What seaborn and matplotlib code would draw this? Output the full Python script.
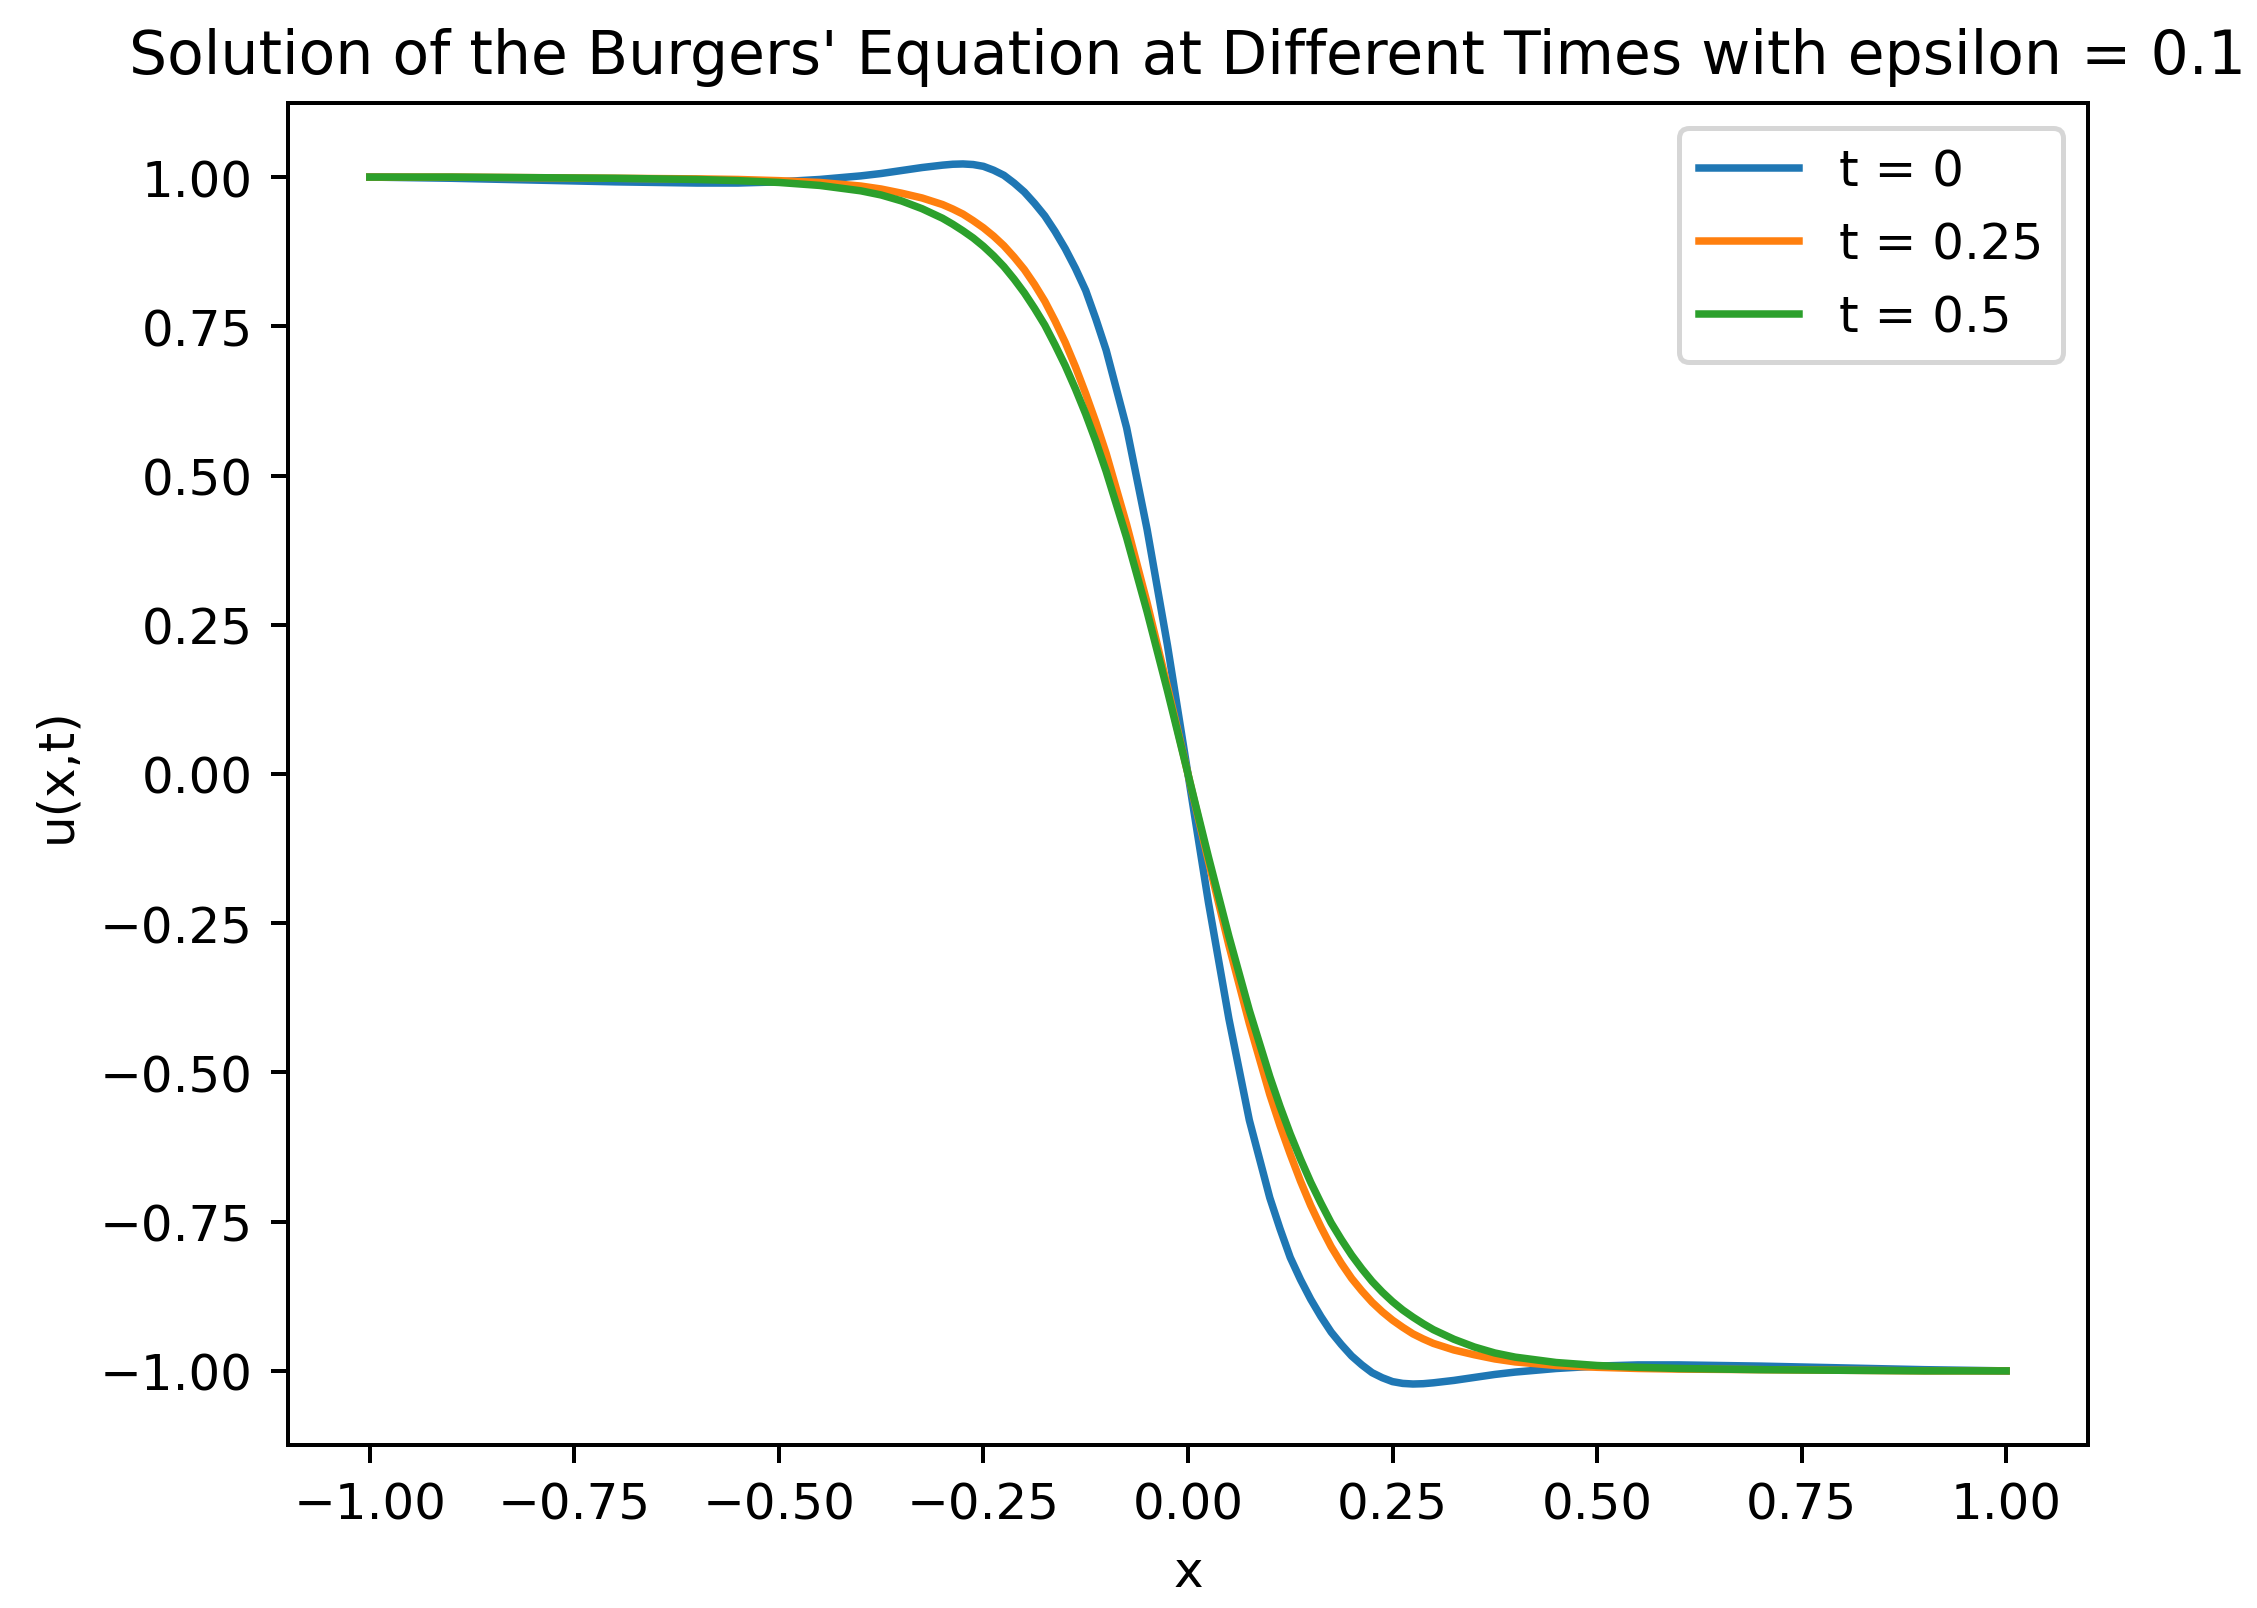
import matplotlib
matplotlib.use("Agg")
import matplotlib.pyplot as plt
import seaborn as sns

# x positions (denser around the bends)
x_vals = [-1.0, -0.9, -0.8, -0.7, -0.6, -0.55, -0.5, -0.45, -0.4, -0.375, -0.35, -0.325,
          -0.3, -0.2875, -0.275, -0.2625, -0.25, -0.2375, -0.225, -0.2125, -0.2, -0.1875,
          -0.175, -0.1625, -0.15, -0.1375, -0.125, -0.1125, -0.1, -0.075, -0.05, -0.025,
          0.0,
          0.025, 0.05, 0.075, 0.1, 0.1125, 0.125, 0.1375, 0.15, 0.1625, 0.175, 0.1875,
          0.2, 0.2125, 0.225, 0.2375, 0.25, 0.2625, 0.275, 0.2875, 0.3,
          0.325, 0.35, 0.375, 0.4, 0.45, 0.5, 0.55, 0.6, 0.7, 0.8, 0.9, 1.0]

# u(x, t) at t = 0
u_t0 = [1.000, 0.998, 0.995, 0.992, 0.990, 0.990, 0.992, 0.996, 1.002, 1.006, 1.011, 1.016,
        1.020, 1.0215, 1.022, 1.021, 1.018, 1.0115, 1.003, 0.990, 0.975, 0.956,
        0.935, 0.909, 0.880, 0.847, 0.810, 0.762, 0.710, 0.580, 0.410, 0.215,
        0.0,
        -0.215, -0.410, -0.580, -0.710, -0.762, -0.810, -0.847, -0.880, -0.909, -0.935, -0.956,
        -0.975, -0.990, -1.003, -1.0115, -1.018, -1.021, -1.022, -1.0215, -1.020,
        -1.016, -1.011, -1.006, -1.002, -0.996, -0.992, -0.990, -0.990, -0.992, -0.995, -0.998, -1.000]

# u(x, t) at t = 0.25
u_t025 = [1.000, 1.000, 0.999, 0.998, 0.997, 0.996, 0.994, 0.991, 0.985, 0.980, 0.973, 0.965,
          0.954, 0.9465, 0.938, 0.927, 0.915, 0.901, 0.885, 0.866, 0.845, 0.820,
          0.792, 0.759, 0.723, 0.682, 0.637, 0.589, 0.537, 0.418, 0.287, 0.146,
          0.0,
          -0.146, -0.287, -0.418, -0.537, -0.589, -0.637, -0.682, -0.723, -0.759, -0.792, -0.820,
          -0.845, -0.866, -0.885, -0.901, -0.915, -0.927, -0.938, -0.9465, -0.954,
          -0.965, -0.973, -0.980, -0.985, -0.991, -0.994, -0.996, -0.997, -0.998, -0.999, -1.000, -1.000]

# u(x, t) at t = 0.5
u_t05 = [1.000, 1.000, 0.999, 0.998, 0.996, 0.994, 0.991, 0.986, 0.977, 0.970, 0.960, 0.947,
         0.931, 0.921, 0.910, 0.898, 0.884, 0.868, 0.850, 0.829, 0.806, 0.780,
         0.752, 0.719, 0.684, 0.645, 0.603, 0.557, 0.507, 0.396, 0.272, 0.139,
         0.0,
         -0.139, -0.272, -0.396, -0.507, -0.557, -0.603, -0.645, -0.684, -0.719, -0.752, -0.780,
         -0.806, -0.829, -0.850, -0.868, -0.884, -0.898, -0.910, -0.921, -0.931,
         -0.947, -0.960, -0.970, -0.977, -0.986, -0.991, -0.994, -0.996, -0.998, -0.999, -1.000, -1.000]

series_labels = ["t = 0", "t = 0.25", "t = 0.5"]

DPI = 360
fig, ax = plt.subplots(figsize=(2257 / DPI, 1609 / DPI), dpi=DPI)
fig.subplots_adjust(left=0.1276, right=0.9251, top=0.9354, bottom=0.1013)

for values, label in zip([u_t0, u_t025, u_t05], series_labels):
    sns.lineplot(x=x_vals, y=values, label=label, ax=ax, linewidth=1.5)

ax.set_title("Solution of the Burgers' Equation at Different Times with epsilon = 0.1")
ax.set_xlabel("x")
ax.set_ylabel("u(x,t)")
ax.set_xticks([-1.0, -0.75, -0.5, -0.25, 0.0, 0.25, 0.5, 0.75, 1.0])
ax.set_yticks([-1.0, -0.75, -0.5, -0.25, 0.0, 0.25, 0.5, 0.75, 1.0])
ax.legend(loc="upper right")

fig.savefig("out.png", dpi=DPI)
